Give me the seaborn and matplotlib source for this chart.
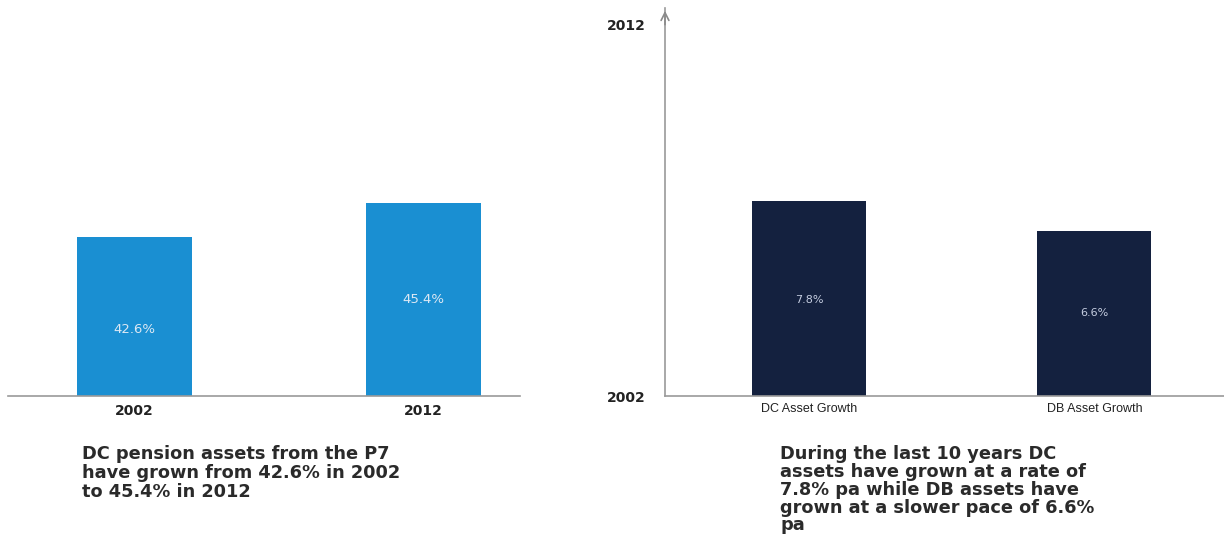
import matplotlib
matplotlib.use("Agg")
import matplotlib.pyplot as plt
import seaborn as sns
import pandas as pd

# ---- data ----
share_years = ["2002", "2012"]
share_values = [42.6, 45.4]
share_labels = ["42.6%", "45.4%"]

growth_categories = ["DC Asset Growth", "DB Asset Growth"]
growth_values = [7.8, 6.6]
growth_labels = ["7.8%", "6.6%"]

axis_year_labels = ["2002", "2012"]

caption_left = "DC pension assets from the P7\nhave grown from 42.6% in 2002\nto 45.4% in 2012"
caption_right = ("During the last 10 years DC\nassets have grown at a rate of\n"
                 "7.8% pa while DB assets have\ngrown at a slower pace of 6.6%\npa")

sns.set_theme(style="white")
plt.rcParams['font.family'] = ['DejaVu Sans']

W, H = 1224, 541
fig = plt.figure(figsize=(W / 100, H / 100), dpi=100)
fig.patch.set_facecolor("white")

def px_axes(x0, x1, ytop, ybot):
    return fig.add_axes([x0 / W, (H - ybot) / H, (x1 - x0) / W, (ybot - ytop) / H])

BLUE = "#1a8fd2"
NAVY = "#14213f"

# ---- left panel ----
axL = px_axes(8, 520, 20, 396)
dfL = pd.DataFrame({"year": share_years, "value": share_values})
sns.barplot(data=dfL, x="year", y="value", color=BLUE, width=0.4, saturation=1,
            ax=axL, edgecolor="none")
axL.set_ylim(29.5, 60.5)
axL.set_xlim(-0.438, 1.334)
axL.set_xlabel("")
axL.set_ylabel("")
axL.set_yticks([])
for s in ["top", "right", "left"]:
    axL.spines[s].set_visible(False)
axL.spines["bottom"].set_color("#9a9a9a")
axL.spines["bottom"].set_linewidth(1.2)
axL.tick_params(axis="x", length=0, pad=6)
for t in axL.get_xticklabels():
    t.set_fontweight("bold")
    t.set_fontsize(10)
    t.set_color("#222222")
for i, (v, lab) in enumerate(zip(share_values, share_labels)):
    ymid = 29.5 + (v - 29.5) * (0.42 if i == 0 else 0.5)
    axL.text(i, ymid, lab, ha="center", va="center", color="#dce8f4", fontsize=9.5)

# ---- right panel ----
axR = px_axes(665, 1224, 8, 396)
dfR = pd.DataFrame({"cat": growth_categories, "value": growth_values})
sns.barplot(data=dfR, x="cat", y="value", color=NAVY, width=0.4, saturation=1,
            ax=axR, edgecolor="none")
axR.set_ylim(0, 15.52)
axR.set_xlim(-0.504, 1.454)
axR.set_xlabel("")
axR.set_ylabel("")
for s in ["top", "right"]:
    axR.spines[s].set_visible(False)
for s in ["bottom", "left"]:
    axR.spines[s].set_color("#9a9a9a")
    axR.spines[s].set_linewidth(1.2)
axR.annotate("", xy=(0, 1.0), xytext=(0, 0.95), xycoords="axes fraction",
             arrowprops=dict(arrowstyle="->", color="#8a8a8a", lw=1.2,
                             mutation_scale=14))
axR.set_yticks([0, 14.84])
axR.set_yticklabels(axis_year_labels)
axR.tick_params(axis="y", length=0, pad=14)
for t in axR.get_yticklabels():
    t.set_fontweight("bold")
    t.set_fontsize(10)
    t.set_color("#222222")
axR.tick_params(axis="x", length=0, pad=5)
for t in axR.get_xticklabels():
    t.set_fontsize(9)
    t.set_family("Liberation Sans")
    t.set_color("#222222")
for i, (v, lab) in enumerate(zip(growth_values, growth_labels)):
    axR.text(i, v * (0.49 if i == 0 else 0.5), lab, ha="center", va="center",
             color="#c5cde0", fontsize=8)

# ---- captions ----
fig.text(82 / W, 1 - 445 / H, caption_left, ha="left", va="top",
         fontsize=12.8, fontweight="bold", family="DejaVu Sans",
         color="#2a2a2a", linespacing=1.07)
fig.text(780 / W, 1 - 445 / H, caption_right, ha="left", va="top",
         fontsize=12.8, fontweight="bold", family="DejaVu Sans",
         color="#2a2a2a", linespacing=0.99)

fig.savefig("out.png", dpi=100, facecolor="white")
